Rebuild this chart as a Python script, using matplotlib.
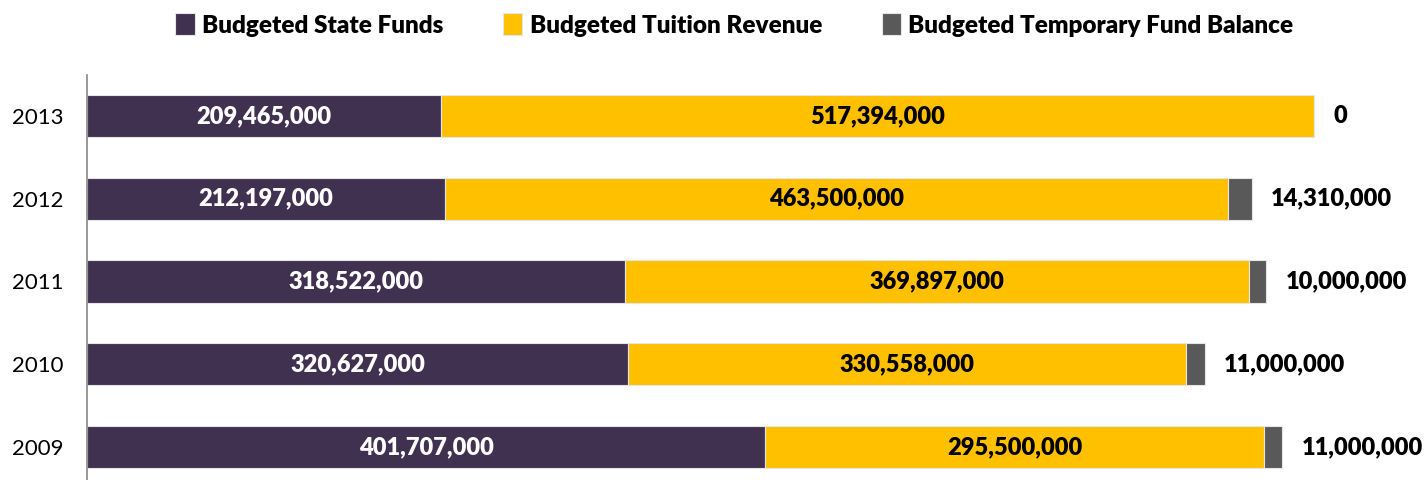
import numpy as np
import matplotlib.pyplot as plt
from matplotlib import font_manager

years = ['2009', '2010', '2011', '2012', '2013']
state_funds = [401707000, 320627000, 318522000, 212197000, 209465000]
tuition_revenue = [295500000, 330558000, 369897000, 463500000, 517394000]
temp_fund_balance = [11000000, 11000000, 10000000, 14310000, 0]

series_names = ['Budgeted State Funds', 'Budgeted Tuition Revenue', 'Budgeted Temporary Fund Balance']
colors = ['#403151', '#FFC000', '#595959']

# font: narrow bold if available
names = {f.name for f in font_manager.fontManager.ttflist}
if 'Liberation Sans Narrow' in names:
    plt.rcParams['font.family'] = ['Liberation Sans Narrow', 'DejaVu Sans']
else:
    plt.rcParams['font.family'] = ['Lato', 'DejaVu Sans']

fig = plt.figure(figsize=(14.26, 4.8), dpi=100)
ax = fig.add_axes([87 / 1426, 0.0, 1 - 87 / 1426, 1 - 75 / 480])

y = np.arange(len(years))
h = 0.51
s = np.array(state_funds)
t = np.array(tuition_revenue)
b = np.array(temp_fund_balance)

bars1 = ax.barh(y, s, height=h, color=colors[0], edgecolor='#e6e6e6', linewidth=0.8, label=series_names[0])
bars2 = ax.barh(y, t, left=s, height=h, color=colors[1], edgecolor='#e6e6e6', linewidth=0.8, label=series_names[1])
bars3 = ax.barh(y, b, left=s + t, height=h, color=colors[2], edgecolor='#e6e6e6', linewidth=0.8, label=series_names[2])

# labels inside segments
for i in range(len(years)):
    ax.text(s[i] / 2, y[i], f'{s[i]:,}', ha='center', va='center', color='white',
            fontsize=17, fontweight='heavy')
    ax.text(s[i] + t[i] / 2, y[i], f'{t[i]:,}', ha='center', va='center', color='black',
            fontsize=17, fontweight='heavy')
    ax.annotate(f'{b[i]:,}', xy=(s[i] + t[i] + b[i], y[i]), xytext=(14, 0),
                textcoords='offset points', ha='left', va='center', color='black',
                fontsize=17, fontweight='heavy')

ax.set_xlim(0, 1339 / 1.688e-6)
ax.set_ylim(-0.40, 4.495)
ax.set_yticks(y)
ax.set_yticklabels(years, fontsize=16)
ax.tick_params(axis='y', length=0, pad=17)
ax.set_xticks([])
for sp in ['top', 'right', 'bottom']:
    ax.spines[sp].set_visible(False)
ax.spines['left'].set_color('#888888')
ax.spines['left'].set_linewidth(1.2)

leg = fig.legend(handles=[bars1, bars2, bars3], loc='center', bbox_to_anchor=(0.515, 0.948),
                 ncol=3, frameon=False, handlelength=0.8, handleheight=1.0, handletextpad=0.3,
                 columnspacing=2.45, prop={'size': 17.5, 'weight': 'heavy'})

fig.savefig('out.png', dpi=100)
